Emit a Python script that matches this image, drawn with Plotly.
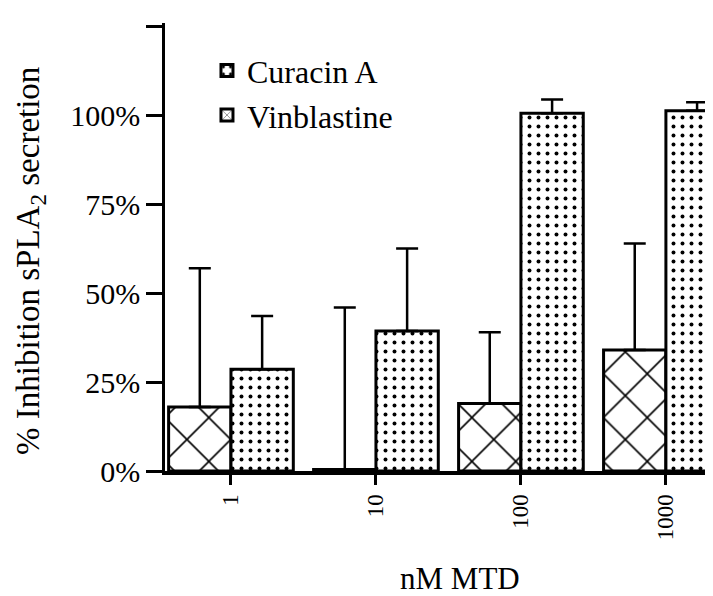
import plotly.graph_objects as go

categories = ["1", "10", "100", "1000"]
vinblastine = [18.0, 0.4, 19.0, 34.0]
vinblastine_err_top = [57.0, 46.0, 39.0, 64.0]
curacin = [28.6, 39.4, 100.6, 101.3]
curacin_err_top = [43.6, 62.6, 104.5, 103.7]
y_ticks = [0, 25, 50, 75, 100, 125]
y_tick_labels = ["0%", "25%", "50%", "75%", "100%", " "]

FONT = "Liberation Serif, Times New Roman, serif"

xpos = list(range(len(categories)))

fig = go.Figure()
fig.add_trace(go.Bar(
    name="Vinblastine", x=xpos, y=vinblastine,
    marker=dict(color="white", line=dict(color="black", width=3),
                pattern=dict(shape="x", size=31, solidity=0.1, fgcolor="black", bgcolor="white",
                             fgopacity=1, fillmode="replace")),
    error_y=dict(type="data", symmetric=False,
                 array=[t - v for t, v in zip(vinblastine_err_top, vinblastine)],
                 arrayminus=[0] * len(vinblastine), color="black", thickness=2.5, width=11),
    legendrank=2,
))
fig.add_trace(go.Bar(
    name="Curacin A", x=xpos, y=curacin,
    marker=dict(color="white", line=dict(color="black", width=3),
                pattern=dict(shape=".", size=9, solidity=0.15, fgcolor="black", bgcolor="white",
                             fgopacity=1, fillmode="replace")),
    error_y=dict(type="data", symmetric=False,
                 array=[t - v for t, v in zip(curacin_err_top, curacin)],
                 arrayminus=[0] * len(curacin), color="black", thickness=2.5, width=11),
    legendrank=1,
))

fig.update_layout(
    width=713, height=596,
    margin=dict(l=157, r=0, t=15, b=133),
    paper_bgcolor="white", plot_bgcolor="white",
    barmode="group", bargap=0.14, bargroupgap=0,
    font=dict(family=FONT, color="black", size=28),
    showlegend=True,
    legend=dict(x=0.0755, y=0.955, xanchor="left", yanchor="top",
                font=dict(family=FONT, size=32), bgcolor="rgba(0,0,0,0)",
                itemwidth=30, tracegroupgap=0),
    xaxis=dict(range=[-0.455, 3.38], tickmode="array", tickvals=xpos, ticktext=categories,
               tickangle=-90, ticks="outside", ticklen=10, tickwidth=2.5, tickcolor="black",
               showline=True, linecolor="black", linewidth=4, showgrid=False, zeroline=False,
               tickfont=dict(family=FONT, size=23)),
    yaxis=dict(range=[0, 126], tickmode="array", tickvals=y_ticks, ticktext=y_tick_labels,
               ticks="outside", ticklen=16, tickwidth=2.5, tickcolor="black",
               showline=True, linecolor="black", linewidth=2.5, showgrid=False, zeroline=False,
               tickfont=dict(family=FONT, size=30)),
    annotations=[
        dict(text="% Inhibition sPLA<sub>2</sub> secretion", xref="paper", yref="paper",
             x=(23 - 157) / 556, y=0.469, xanchor="center", yanchor="middle", textangle=-90,
             showarrow=False, font=dict(family=FONT, size=33)),
        dict(text="nM MTD", xref="paper", yref="paper",
             x=(452 - 157) / 556, y=-107 / 448, xanchor="center", yanchor="middle",
             showarrow=False, font=dict(family=FONT, size=31)),
    ],
)

fig.write_html("out.html")
